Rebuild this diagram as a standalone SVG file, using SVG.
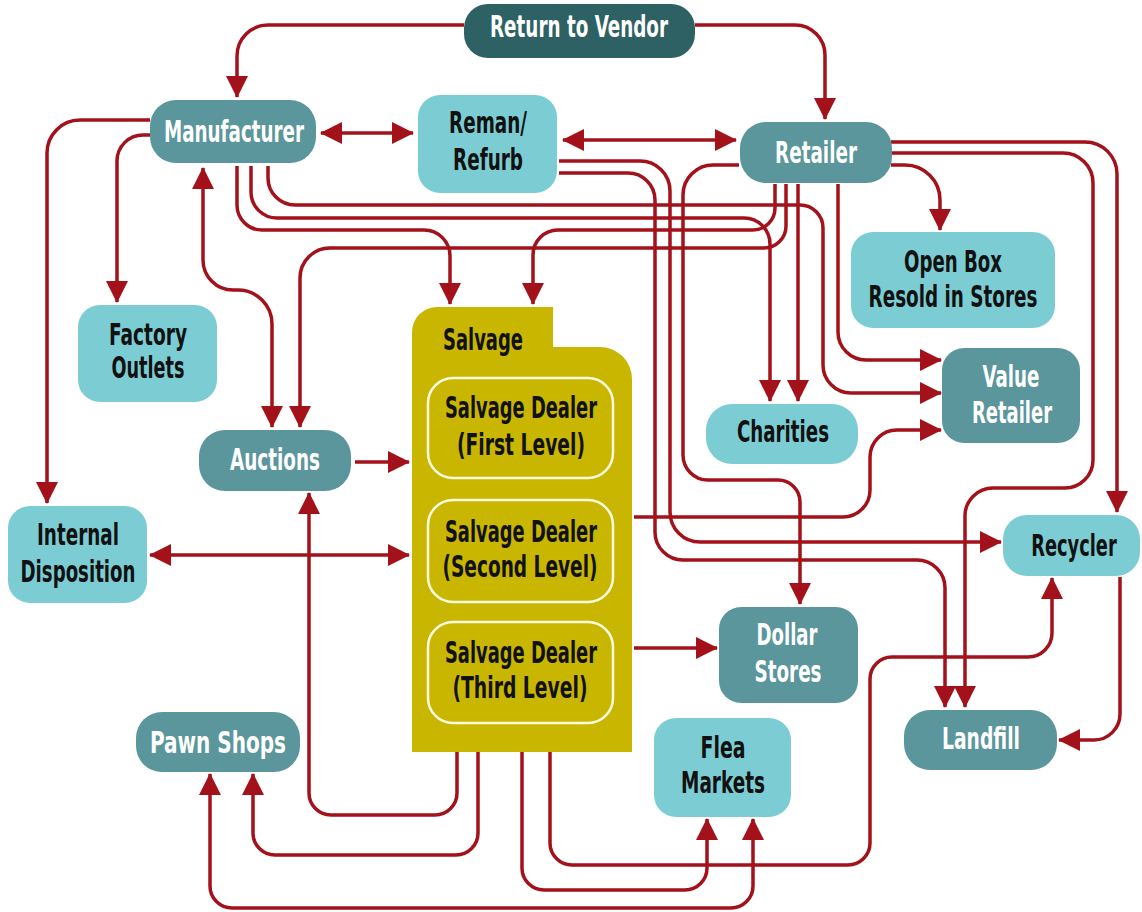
<svg xmlns="http://www.w3.org/2000/svg" width="1142" height="912" viewBox="0 0 1142 912">
<defs>
<marker id="ah" viewBox="0 0 22 22" markerUnits="userSpaceOnUse" markerWidth="22" markerHeight="22" refX="21" refY="11" orient="auto-start-reverse">
<path d="M0,0 L22,11 L0,22 Z" fill="#a3121a"/>
</marker>
<style>
.dark{fill:#2d6164}
.mid{fill:#5a969b}
.lite{fill:#7bcdd3}
.olive{fill:#c8b600}
.inner{fill:#c8b600;stroke:#fffbe0;stroke-width:2.5}
text{font-family:"DejaVu Sans Condensed","Liberation Sans Narrow","Liberation Sans",sans-serif;font-weight:bold;font-size:30px;text-anchor:middle}
.w{fill:#ffffff}
.b{fill:#111111}
#connectors path{fill:none;stroke:#a3121a;stroke-width:3.5}
.e{marker-end:url(#ah)}
.be{marker-start:url(#ah);marker-end:url(#ah)}
</style>
</defs>
<rect width="1142" height="912" fill="#ffffff"/>

<g id="connectors">
<path class="e" d="M464,25 H268 A31,31 0 0 0 237,56 V97"/>
<path class="e" d="M695,25 H795 A30,30 0 0 1 825,55 V119"/>
<path class="be" d="M321,133 H413"/>
<path class="be" d="M563,140 H736"/>
<path class="e" d="M150,135 H143 A26,26 0 0 0 117,161 V302"/>
<path class="e" d="M150,120 H80 A33,33 0 0 0 47,153 V503"/>
<path class="be" d="M203,168 V260 A30,30 0 0 0 233,290 H238 A34,34 0 0 1 272,324 V427"/>
<path class="e" d="M786,184 V226 A22,22 0 0 1 764,248 H330 A30,30 0 0 0 300,278 V427"/>
<path class="e" d="M775,184 V208 A22,22 0 0 1 753,230 H558 A25,25 0 0 0 533,255 V304"/>
<path class="e" d="M237,166 V205 A25,25 0 0 0 262,230 H424 A26,26 0 0 1 450,256 V304"/>
<path class="e" d="M251,166 V192 A26,26 0 0 0 277,218 H744 A26,26 0 0 1 770,244 V401"/>
<path class="e" d="M268,166 V178 A27,27 0 0 0 295,205 H800 A23,23 0 0 1 823,228 V365 A28,28 0 0 0 851,393 H941"/>
<path class="e" d="M798,184 V401"/>
<path class="e" d="M838,184 V332 A28,28 0 0 0 866,360 H941"/>
<path class="e" d="M559,161 H640 A30,30 0 0 1 670,191 V512 A30,30 0 0 0 700,542 H1001"/>
<path class="e" d="M559,173 H628 A27,27 0 0 1 655,200 V532 A28,28 0 0 0 683,560 H917 A28,28 0 0 1 945,588 V707"/>
<path class="e" d="M739,165 H713 A30,30 0 0 0 683,195 V455 A25,25 0 0 0 708,480 H778 A22,22 0 0 1 800,502 V604"/>
<path class="e" d="M634,517 H843 A27,27 0 0 0 870,490 V457 A27,27 0 0 1 897,430 H941"/>
<path class="e" d="M634,648 H717"/>
<path class="e" d="M355,462 H409"/>
<path class="be" d="M150,555 H409"/>
<path class="e" d="M891,142 H1085 A32,32 0 0 1 1117,174 V512"/>
<path class="e" d="M891,153 H1063 A30,30 0 0 1 1093,183 V460 A28,28 0 0 1 1065,488 H993 A28,28 0 0 0 965,516 V707"/>
<path class="e" d="M891,165 H905 A35,35 0 0 1 940,200 V230"/>
<path class="e" d="M1120,577 V714 A26,26 0 0 1 1094,740 H1059"/>
<path class="e" d="M550,752 V843 A22,22 0 0 0 572,865 H848 A22,22 0 0 0 870,843 V679 A22,22 0 0 1 892,657 H1028 A24,24 0 0 0 1052,633 V578"/>
<path class="e" d="M522,752 V868 A22,22 0 0 0 544,890 H685 A22,22 0 0 0 707,868 V819"/>
<path class="e" d="M478,752 V833 A22,22 0 0 1 456,855 H275 A22,22 0 0 1 253,833 V774"/>
<path class="e" d="M457,752 V793 A22,22 0 0 1 435,815 H331 A22,22 0 0 1 309,793 V493"/>
<path class="be" d="M210,774 V886 A22,22 0 0 0 232,908 H731 A22,22 0 0 0 753,886 V819"/>
</g>

<g id="return-to-vendor">
<rect class="dark" x="464" y="4" width="231" height="54" rx="24"/>
<text class="w" x="579" y="37" textLength="178" lengthAdjust="spacingAndGlyphs">Return to Vendor</text>
</g>
<g id="manufacturer">
<rect class="mid" x="150" y="100" width="166" height="63" rx="26"/>
<text class="w" x="234" y="142" textLength="140" lengthAdjust="spacingAndGlyphs">Manufacturer</text>
</g>
<g id="reman-refurb">
<rect class="lite" x="418" y="95" width="139" height="98" rx="22"/>
<text class="b" x="488" y="133" textLength="78" lengthAdjust="spacingAndGlyphs">Reman/</text>
<text class="b" x="488" y="170" textLength="70" lengthAdjust="spacingAndGlyphs">Refurb</text>
</g>
<g id="retailer">
<rect class="mid" x="740" y="122" width="152" height="61" rx="26"/>
<text class="w" x="816" y="163" textLength="82" lengthAdjust="spacingAndGlyphs">Retailer</text>
</g>
<g id="open-box">
<rect class="lite" x="851" y="232" width="204" height="96" rx="22"/>
<text class="b" x="953" y="272" textLength="98" lengthAdjust="spacingAndGlyphs">Open Box</text>
<text class="b" x="953" y="307" textLength="169" lengthAdjust="spacingAndGlyphs">Resold in Stores</text>
</g>
<g id="value-retailer">
<rect class="mid" x="942" y="348" width="138" height="95" rx="22"/>
<text class="w" x="1011" y="387" textLength="57" lengthAdjust="spacingAndGlyphs">Value</text>
<text class="w" x="1012" y="423" textLength="80" lengthAdjust="spacingAndGlyphs">Retailer</text>
</g>
<g id="factory-outlets">
<rect class="lite" x="78" y="305" width="139" height="97" rx="22"/>
<text class="b" x="148" y="345" textLength="78" lengthAdjust="spacingAndGlyphs">Factory</text>
<text class="b" x="148" y="378" textLength="73" lengthAdjust="spacingAndGlyphs">Outlets</text>
</g>
<g id="auctions">
<rect class="mid" x="199" y="430" width="152" height="61" rx="26"/>
<text class="w" x="275" y="470" textLength="90" lengthAdjust="spacingAndGlyphs">Auctions</text>
</g>
<g id="internal-disposition">
<rect class="lite" x="8" y="506" width="139" height="97" rx="22"/>
<text class="b" x="78" y="545" textLength="82" lengthAdjust="spacingAndGlyphs">Internal</text>
<text class="b" x="78" y="582" textLength="115" lengthAdjust="spacingAndGlyphs">Disposition</text>
</g>
<g id="salvage">
<path class="olive" d="M412,752 V332 A25,25 0 0 1 437,307 H553 V347 H600 A32,32 0 0 1 632,379 V752 Z"/>
<text class="b" x="483" y="350" textLength="80" lengthAdjust="spacingAndGlyphs">Salvage</text>
</g>
<g id="salvage-dealer-first">
<rect class="inner" x="428" y="378" width="185" height="100" rx="25"/>
<text class="b" x="521" y="418" textLength="152" lengthAdjust="spacingAndGlyphs">Salvage Dealer</text>
<text class="b" x="521" y="455" textLength="128" lengthAdjust="spacingAndGlyphs">(First Level)</text>
</g>
<g id="salvage-dealer-second">
<rect class="inner" x="428" y="500" width="185" height="102" rx="25"/>
<text class="b" x="521" y="542" textLength="152" lengthAdjust="spacingAndGlyphs">Salvage Dealer</text>
<text class="b" x="520" y="577" textLength="155" lengthAdjust="spacingAndGlyphs">(Second Level)</text>
</g>
<g id="salvage-dealer-third">
<rect class="inner" x="428" y="622" width="185" height="101" rx="25"/>
<text class="b" x="521" y="663" textLength="152" lengthAdjust="spacingAndGlyphs">Salvage Dealer</text>
<text class="b" x="520" y="698" textLength="135" lengthAdjust="spacingAndGlyphs">(Third Level)</text>
</g>
<g id="charities">
<rect class="lite" x="706" y="404" width="152" height="60" rx="26"/>
<text class="b" x="783" y="442" textLength="92" lengthAdjust="spacingAndGlyphs">Charities</text>
</g>
<g id="dollar-stores">
<rect class="mid" x="719" y="607" width="139" height="96" rx="22"/>
<text class="w" x="787" y="645" textLength="61" lengthAdjust="spacingAndGlyphs">Dollar</text>
<text class="w" x="788" y="682" textLength="67" lengthAdjust="spacingAndGlyphs">Stores</text>
</g>
<g id="recycler">
<rect class="lite" x="1003" y="515" width="137" height="61" rx="24"/>
<text class="b" transform="translate(1074,556) scale(0.66,1)" x="0" y="0">Recycler</text>
</g>
<g id="landfill">
<rect class="mid" x="904" y="710" width="153" height="60" rx="26"/>
<text class="w" x="981" y="749" textLength="78" lengthAdjust="spacingAndGlyphs">Landfill</text>
</g>
<g id="flea-markets">
<rect class="lite" x="654" y="718" width="137" height="99" rx="22"/>
<text class="b" x="723" y="758" textLength="45" lengthAdjust="spacingAndGlyphs">Flea</text>
<text class="b" x="723" y="793" textLength="84" lengthAdjust="spacingAndGlyphs">Markets</text>
</g>
<g id="pawn-shops">
<rect class="mid" x="136" y="712" width="164" height="60" rx="26"/>
<text class="w" x="218" y="753" textLength="136" lengthAdjust="spacingAndGlyphs">Pawn Shops</text>
</g>
</svg>
